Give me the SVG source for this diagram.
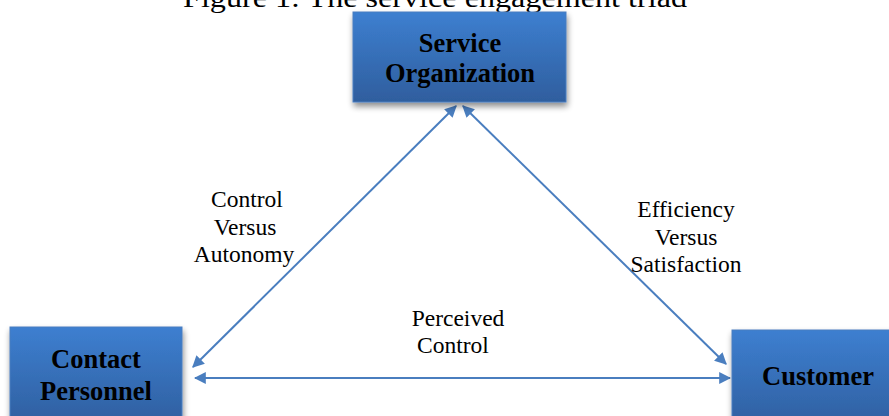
<svg xmlns="http://www.w3.org/2000/svg" width="889" height="416" viewBox="0 0 889 416">
<defs>
<linearGradient id="g" x1="0" y1="0" x2="0" y2="1">
<stop offset="0" stop-color="#3d7fd0"/>
<stop offset="1" stop-color="#2f5e9e"/>
</linearGradient>
<filter id="sh" x="-10%" y="-10%" width="130%" height="140%">
<feGaussianBlur in="SourceAlpha" stdDeviation="3"/>
<feOffset dx="1" dy="4"/>
<feComponentTransfer><feFuncA type="linear" slope="0.45"/></feComponentTransfer>
<feMerge><feMergeNode/><feMergeNode in="SourceGraphic"/></feMerge>
</filter>
<marker id="ah" viewBox="0 0 10 10" refX="9" refY="5" markerWidth="6" markerHeight="6" orient="auto-start-reverse" markerUnits="strokeWidth">
<path d="M0,0 L10,5 L0,10 z" fill="#4a7ebf"/>
</marker>
</defs>
<style>
.box{fill:url(#g);stroke:#4a7ebf;stroke-width:1;filter:url(#sh)}
text{font-family:'Liberation Serif','Times New Roman',serif;fill:#000;text-anchor:middle}
.bt{font-weight:bold;font-size:26.5px}
.lt{font-size:23.5px}
.ln{stroke:#4a7ebf;stroke-width:2;fill:none;marker-start:url(#ah);marker-end:url(#ah)}
</style>
<rect width="889" height="416" fill="#fff"/>
<text x="435" y="7" font-size="28" textLength="504" lengthAdjust="spacingAndGlyphs">Figure 1: The service engagement triad</text>
<g id="connectors">
<line class="ln" x1="456" y1="106" x2="193" y2="367"/>
<line class="ln" x1="463" y1="106" x2="726" y2="364"/>
<line class="ln" x1="195" y1="378" x2="730" y2="378"/>
<text class="lt" x="247" y="207">Control</text>
<text class="lt" x="245" y="235">Versus</text>
<text class="lt" x="244" y="262">Autonomy</text>
<text class="lt" x="686" y="217">Efficiency</text>
<text class="lt" x="686" y="245">Versus</text>
<text class="lt" x="686" y="272">Satisfaction</text>
<text class="lt" x="458" y="326">Perceived</text>
<text class="lt" x="453" y="353">Control</text>
</g>
<g id="service-organization">
<rect class="box" x="353" y="12" width="213" height="90"/>
<text class="bt" x="460" y="52">Service</text>
<text class="bt" x="460" y="82">Organization</text>
</g>
<g id="contact-personnel">
<rect class="box" x="10" y="327" width="172" height="100"/>
<text class="bt" x="96" y="368">Contact</text>
<text class="bt" x="96" y="400">Personnel</text>
</g>
<g id="customer">
<rect class="box" x="732" y="330" width="170" height="100"/>
<text class="bt" x="818" y="385">Customer</text>
</g>
</svg>
